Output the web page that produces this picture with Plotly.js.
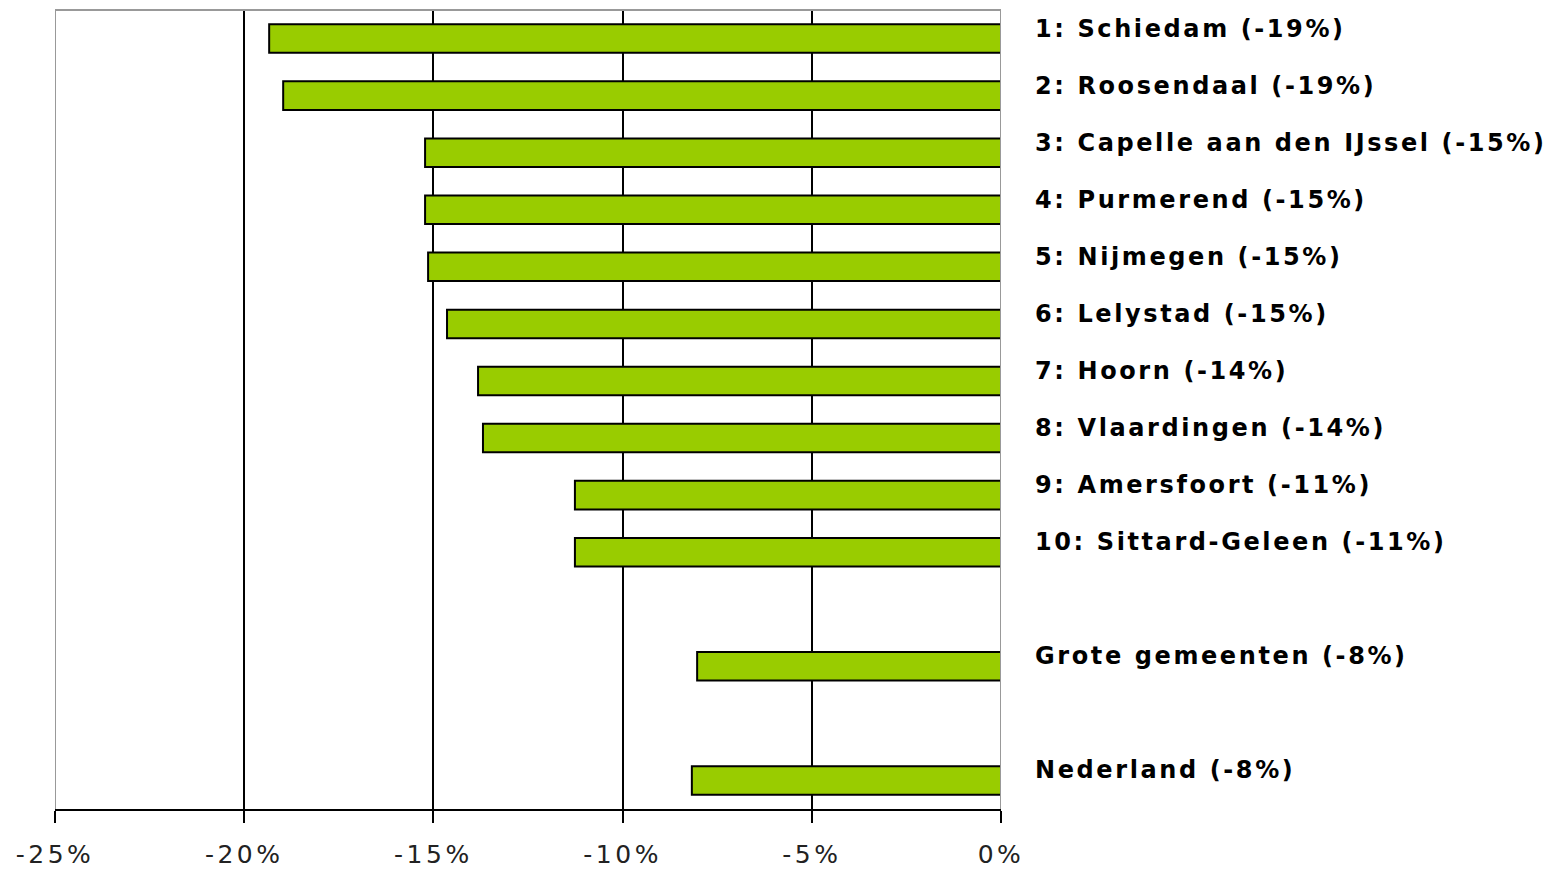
<!DOCTYPE html>
<html>
<head>
<meta charset="utf-8">
<script src="https://cdn.plot.ly/plotly-3.0.1.min.js"></script>
<style>
html,body{margin:0;padding:0;background:#fff;}
#chart{width:1557px;height:872px;}
.annotation-text{letter-spacing:2.6px;}
.xtick text{letter-spacing:3.5px;}
</style>
</head>
<body>
<div id="chart"></div>
<script>
// Data
const names = ["1: Schiedam", "2: Roosendaal", "3: Capelle aan den IJssel", "4: Purmerend",
  "5: Nijmegen", "6: Lelystad", "7: Hoorn", "8: Vlaardingen", "9: Amersfoort",
  "10: Sittard-Geleen", "Grote gemeenten", "Nederland"];
const values = [-19.34, -18.97, -15.22, -15.22, -15.14, -14.64, -13.82, -13.69, -11.26, -11.26, -8.03, -8.17];
const slotOrder = ["1: Schiedam", "2: Roosendaal", "3: Capelle aan den IJssel", "4: Purmerend",
  "5: Nijmegen", "6: Lelystad", "7: Hoorn", "8: Vlaardingen", "9: Amersfoort",
  "10: Sittard-Geleen", "gap1", "Grote gemeenten", "gap2", "Nederland"];
const tickVals = [-25, -20, -15, -10, -5, 0];
const tickText = ["-25%", "-20%", "-15%", "-10%", "-5%", "0%"];

const trace = {
  type: 'bar', orientation: 'h',
  x: values, y: names,
  width: 0.5,
  marker: {color: '#99CC00', line: {color: '#000000', width: 2}},
  hoverinfo: 'x+y'
};

const annotations = names.map((n, i) => ({
  x: 0, y: n, xref: 'x', yref: 'y',
  text: n + ' (' + Math.round(values[i]) + '%)',
  showarrow: false, xanchor: 'left', yanchor: 'middle',
  xshift: 32, yshift: 10,
  font: {family: 'DejaVu Sans', size: 24, color: '#000', weight: 'bold'}
}));

const layout = {
  width: 1557, height: 872,
  margin: {l: 55, r: 556, t: 10, b: 63},
  paper_bgcolor: '#fff', plot_bgcolor: '#fff',
  showlegend: false,
  xaxis: {
    range: [-25, 0], tickvals: tickVals, ticktext: tickText,
    showgrid: true, gridcolor: '#000', gridwidth: 2,
    zeroline: false,
    showline: true, linecolor: '#000', linewidth: 2,
    ticks: 'outside', ticklen: 12, tickwidth: 2, tickcolor: '#000',
    tickfont: {family: 'DejaVu Sans', size: 25, color: '#222'},
    ticklabelstandoff: 10,
    fixedrange: true
  },
  yaxis: {
    type: 'category', categoryorder: 'array', categoryarray: slotOrder,
    range: [13.5, -0.5],
    showticklabels: false, showgrid: false, zeroline: false, showline: false,
    ticks: '', fixedrange: true
  },
  shapes: [
    {type: 'line', xref: 'x', yref: 'paper', x0: -25, x1: -25, y0: 0, y1: 1, line: {color: '#999', width: 2}, layer: 'above'},
    {type: 'line', xref: 'x', yref: 'paper', x0: 0, x1: 0, y0: 0, y1: 1, line: {color: '#999', width: 2}, layer: 'above'},
    {type: 'line', xref: 'paper', yref: 'paper', x0: 0, x1: 1, y0: 1, y1: 1, line: {color: '#999', width: 2}, layer: 'above'}
  ],
  annotations: annotations
};

Plotly.newPlot('chart', [trace], layout, {displayModeBar: false, staticPlot: true});
</script>
</body>
</html>
